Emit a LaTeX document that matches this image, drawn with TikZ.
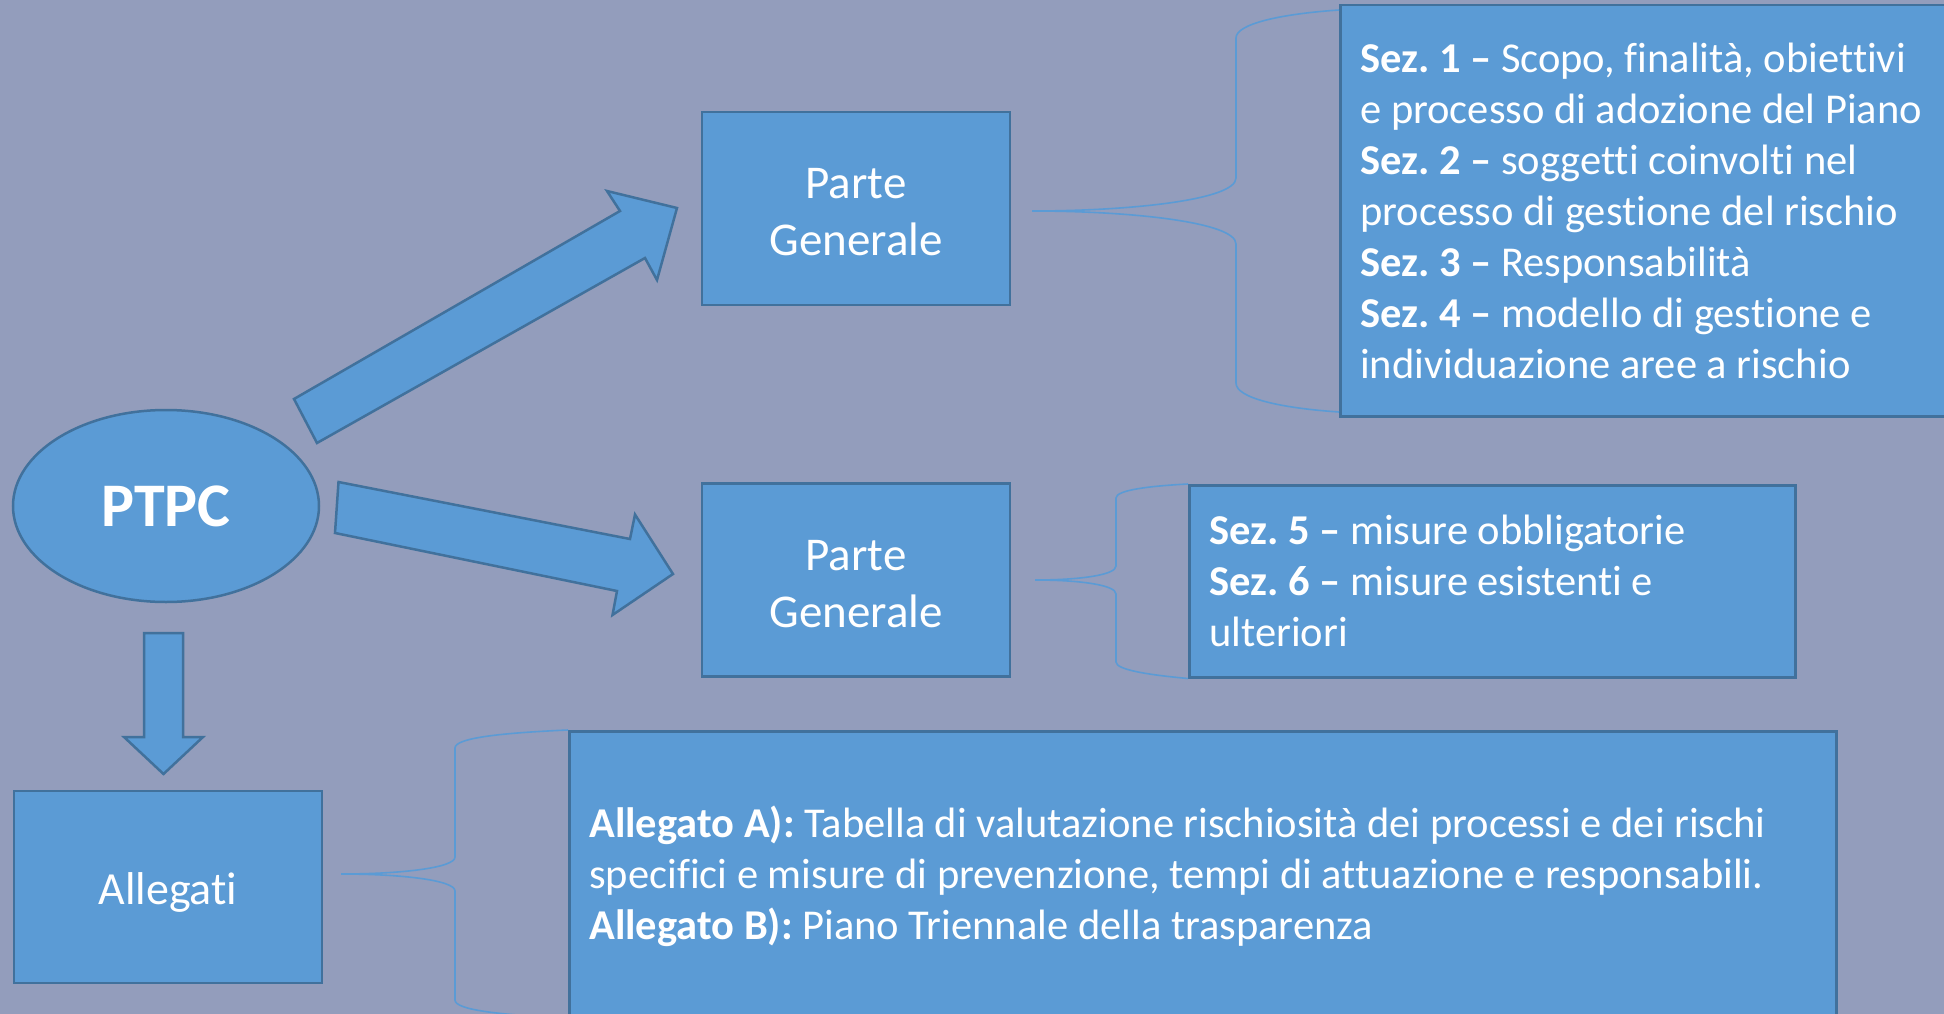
\documentclass[tikz,border=0pt]{standalone}
\usepackage{fontspec}
\setmainfont{Carlito}[Ligatures={TeX,NoCommon}]
\usetikzlibrary{shapes.geometric}
\definecolor{bgc}{RGB}{147,157,188}
\definecolor{fillb}{RGB}{91,155,213}
\definecolor{edgeb}{RGB}{65,113,156}
\newcommand{\natspaces}{\spaceskip=0pt\relax\xspaceskip=0pt\relax\hyphenpenalty=10000\relax}
\begin{document}
\frenchspacing
\begin{tikzpicture}[x=1pt,y=-1pt,
  box/.style={draw=edgeb, fill=fillb, line width=2.5pt, text=white, inner sep=0pt},
  pgbox/.style={box, minimum width=308pt, minimum height=193pt, align=center,
    font=\fontsize{47}{57}\selectfont},
  sezbox/.style={box, align=left, inner xsep=20pt, inner ysep=0pt,
    font=\fontsize{42.5}{51}\selectfont},
  blockarrow/.style={draw=edgeb, fill=fillb, line width=2.5pt, line join=miter},
  bracel/.style={draw=fillb, line width=1.6pt}
]
\useasboundingbox (0,0) rectangle (1944,1014);
\clip (0,0) rectangle (1944,1014);
\fill[bgc] (0,0) rectangle (1944,1014);

% nodes
\node[box, ellipse, minimum width=306pt, minimum height=192pt,
  font=\fontsize{62}{70}\selectfont\bfseries] (ptpc) at (166,506) {PTPC};
\node[pgbox] (pg1) at (856,208.5) {\rule{0pt}{38pt}Parte\\Generale};
\node[pgbox] (pg2) at (856,580) {\rule{0pt}{38pt}Parte\\Generale};
\node[pgbox, minimum height=192pt, font=\fontsize{46}{57}\selectfont] (all) at (168,887)
  {\rule{0pt}{42pt}Allegati};

\node[sezbox, text width=581pt, minimum height=411pt, anchor=north west] (s14) at (1339,4)
 {\natspaces
  \textbf{Sez. 1 –} Scopo, finalità, obiettivi\\
  e processo di adozione del Piano\\
  \textbf{Sez. 2 –} soggetti coinvolti nel\\
  processo di gestione del rischio\\
  \textbf{Sez. 3 –} Responsabilità\\
  \textbf{Sez. 4 –} modello di gestione e\\
  individuazione aree a rischio};

\node[sezbox, text width=566pt, minimum height=192pt, anchor=north west] (s56) at (1188,484)
 {\natspaces
  \textbf{Sez. 5 –} misure obbligatorie\\
  \textbf{Sez. 6 –} misure esistenti e\\
  ulteriori};

\node[sezbox, text width=1227pt, minimum height=290pt, anchor=north west] (alb) at (568,730)
 {\natspaces
  \textbf{Allegato A):} Tabella di valutazione rischiosità dei processi e dei rischi\\
  specifici e misure di prevenzione, tempi di attuazione e responsabili.\\
  \textbf{Allegato B):} Piano Triennale della trasparenza};

% block arrows
\draw[blockarrow] (294,399) -- (620,211) -- (607,191) -- (677,208) -- (657,280)
  -- (645,258) -- (317,443) -- cycle;
\draw[blockarrow] (338.5,482) -- (630,539) -- (635,514.5) -- (673,574) -- (612.5,615)
  -- (617,591) -- (335,533) -- cycle;
\draw[blockarrow] (144,633) -- (183,633) -- (183,737) -- (203,737) -- (163.5,774)
  -- (124,737) -- (144,737) -- cycle;

% braces
\coordinate (b1) at (1032,211);
\draw[bracel] (s14.north west |- 0,10) .. controls (1280,14) and (1236,24) .. (1236,38)
  -- (1236,178) .. controls (1236,200) and (1130,211) .. (b1)
  .. controls (1130,211) and (1236,222) .. (1236,244)
  -- (1236,383) .. controls (1236,398) and (1280,408) .. (s14.south west |- 0,412);

\coordinate (b2) at (1035,580);
\draw[bracel] (s56.north west) .. controls (1150,486) and (1116,490) .. (1116,498)
  -- (1116,566) .. controls (1116,575) and (1080,580) .. (b2)
  .. controls (1080,580) and (1116,585) .. (1116,594)
  -- (1116,662) .. controls (1116,670) and (1150,675) .. (s56.south west);

\coordinate (b3) at (341,874);
\draw[bracel] (alb.north west) .. controls (500,733) and (455,738) .. (455,748)
  -- (455,857) .. controls (455,868) and (400,874) .. (b3)
  .. controls (400,874) and (455,880) .. (455,891)
  -- (455,1000) .. controls (455,1010) and (500,1015) .. (568,1018);
\end{tikzpicture}
\end{document}
